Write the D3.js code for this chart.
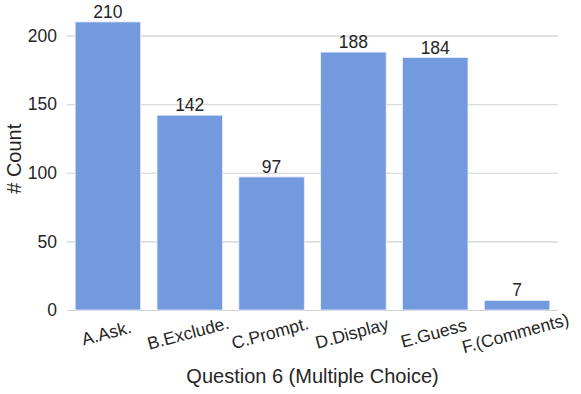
<!DOCTYPE html>
<html lang="en">
<head>
  <meta charset="UTF-8">
  <title>Question 6 (Multiple Choice)</title>
  <script src="https://d3js.org/d3.v7.min.js"></script>
  <style>
    body { margin: 0; background: #fff; }
    text { font-family: "Liberation Sans", Arial, sans-serif; fill: #262626; }
  </style>
</head>
<body>
  <svg width="581" height="394"></svg>

  <script>
    // answers and counts
    const categories = ["A.Ask.", "B.Exclude.", "C.Prompt.", "D.Display", "E.Guess", "F.(Comments)"];
    const counts = [210, 142, 97, 188, 184, 7];
    const yTicks = [0, 50, 100, 150, 200];

    const data = categories.map((c, i) => ({ cat: c, n: counts[i] }));

    const margin = { top: 7.5, right: 23, bottom: 84, left: 67 };
    const width = 581 - margin.left - margin.right;
    const height = 394 - margin.top - margin.bottom;

    const svg = d3.select("svg")
      .append("g")
      .attr("transform", "translate(" + margin.left + "," + margin.top + ")");

    const x = d3.scaleBand()
      .domain(categories)
      .range([0, width])
      .paddingInner(0.2)
      .paddingOuter(0.1);

    const y = d3.scaleLinear()
      .domain([0, d3.max(counts) * 1.05])
      .range([height, 0]);

    // grid lines
    svg.append("g")
      .call(d3.axisLeft(y).tickValues(yTicks).tickSize(-width).tickPadding(10))
      .call(g => g.select(".domain").remove())
      .call(g => g.selectAll(".tick line").attr("stroke", "#d0d0d0").attr("stroke-width", 1.1))
      .call(g => g.selectAll(".tick text").style("font-size", "17.5px").attr("fill", "#262626")
        .style("font-family", "'Liberation Sans', Arial, sans-serif"));

    // bars
    svg.selectAll(".bar")
      .data(data)
      .enter().append("rect")
      .attr("class", "bar")
      .attr("x", d => x(d.cat))
      .attr("y", d => y(d.n))
      .attr("width", x.bandwidth())
      .attr("height", d => height - y(d.n))
      .attr("fill", "#739ade")
      .attr("stroke", "#e8eef9")
      .attr("stroke-width", 0.8);

    // value labels
    svg.selectAll(".label")
      .data(data)
      .enter().append("text")
      .attr("class", "label")
      .attr("x", d => x(d.cat) + x.bandwidth() / 2)
      .attr("y", d => y(d.n) - 4)
      .attr("text-anchor", "middle")
      .style("font-size", "17.5px")
      .text(d => d.n);

    // x axis, rotated labels
    const xAxis = svg.append("g")
      .attr("transform", "translate(0," + height + ")")
      .call(d3.axisBottom(x).tickSize(0).tickPadding(0));
    xAxis.select(".domain").remove();
    xAxis.selectAll(".tick text")
      .attr("y", 0)
      .attr("dy", 0)
      .attr("transform", "translate(0,29) rotate(-15)")
      .attr("text-anchor", "middle")
      .style("font-size", "17.5px")
      .style("font-family", "'Liberation Sans', Arial, sans-serif")
      .attr("fill", "#262626");

    // axis titles
    svg.append("text")
      .attr("x", width / 2)
      .attr("y", height + 73)
      .attr("text-anchor", "middle")
      .style("font-size", "20px")
      .text("Question 6 (Multiple Choice)");

    svg.append("text")
      .attr("transform", "rotate(-90)")
      .attr("x", -(height / 2))
      .attr("y", -margin.left + 21)
      .attr("text-anchor", "middle")
      .style("font-size", "20px")
      .text("# Count");
  </script>
</body>
</html>
